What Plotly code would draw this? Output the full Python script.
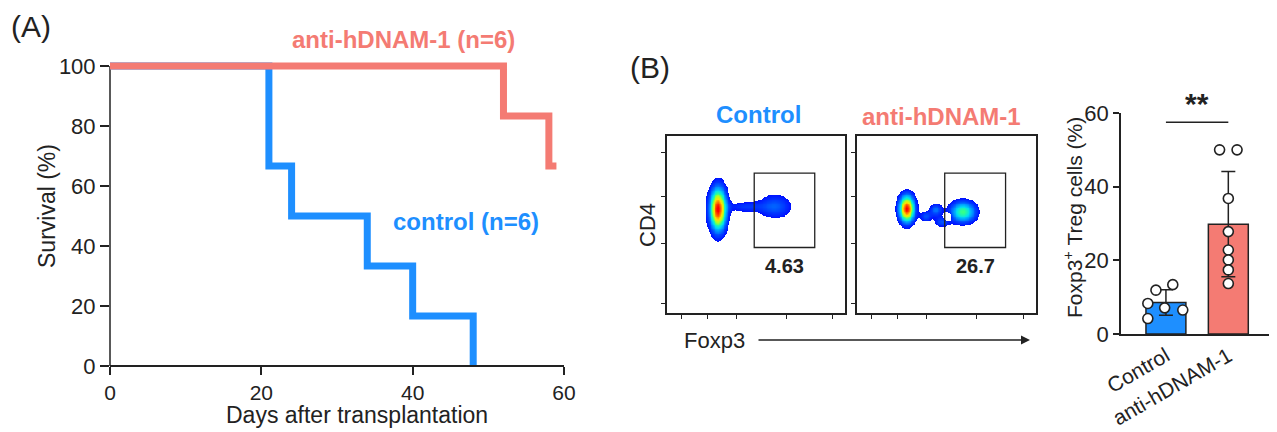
import numpy as np
import plotly.graph_objects as go

# page has an 8px body margin, so the figure is sized to fit the 1277x432 window
OFF = 8
FW, FH = 1269, 424
BLUE = "#1E8FFF"
SALMON = "#F47B73"
DARK = "#222222"
FONT = "Liberation Sans"

# ---------------- Panel A data (Kaplan-Meier) ----------------
ctrl_days = [0, 21, 24, 34, 40, 48]
ctrl_surv = [100, 66.7, 50, 33.3, 16.7, 0]
anti_days = [0, 52, 58, 59]
anti_surv = [100, 83.3, 66.7, 66.7]
a_xticks = [0, 20, 40, 60]
a_yticks = [0, 20, 40, 60, 80, 100]

# ---------------- Panel B flow blobs ----------------
# each blob: centre x, centre y, spread x, spread y, weight (axes scaled 0..1)
ctrl_cx = [0.287, 0.44, 0.607]
ctrl_cy = [0.585, 0.600, 0.602]
ctrl_sx = [0.031, 0.07, 0.064]
ctrl_sy = [0.08, 0.022, 0.046]
ctrl_w = [1.0, 0.15, 0.22]

anti_cx = [0.279, 0.385, 0.441, 0.475, 0.592, 0.508]
anti_cy = [0.588, 0.545, 0.582, 0.514, 0.571, 0.542]
anti_sx = [0.029, 0.022, 0.024, 0.028, 0.048, 0.012]
anti_sy = [0.05, 0.02, 0.024, 0.02, 0.04, 0.012]
anti_w = [1.0, 0.2, 0.25, 0.2, 0.55, -0.4]

gate_x = [0.49, 0.83]
gate_y = [0.37, 0.79]
gate_pct = ["4.63", "26.7"]

# ---------------- Panel B bar data ----------------
bar_groups = ["Control", "anti-hDNAM-1"]
ctrl_pts = [11.9, 13.4, 8.3, 7.1, 6.5, 4.2]
anti_pts = [50.0, 50.0, 36.8, 27.8, 22.8, 20.1, 17.4, 13.7]
ctrl_jit = [-0.16, 0.11, -0.29, -0.02, 0.27, -0.29]
anti_jit = [-0.14, 0.14, 0, 0, 0, 0, 0, 0]
b_yticks = [0, 20, 40, 60]


def px(x):
    return (x - OFF) / FW


def py(y):
    return 1 - (y - OFF) / FH


fig = go.Figure()

# ---------- Panel A ----------
fig.add_trace(go.Scatter(x=ctrl_days, y=ctrl_surv, mode="lines", line_shape="hv",
                         line=dict(color=BLUE, width=7), xaxis="x", yaxis="y",
                         hoverinfo="skip", showlegend=False))
fig.add_trace(go.Scatter(x=anti_days, y=anti_surv, mode="lines", line_shape="hv",
                         line=dict(color=SALMON, width=7), xaxis="x", yaxis="y",
                         hoverinfo="skip", showlegend=False))

# ---------- Panel B flow plots ----------
gx = np.linspace(0, 1, 220)
gy = np.linspace(0, 1, 220)
XX, YY = np.meshgrid(gx, gy)
THR = 0.08


def density(cx, cy, sx, sy, w):
    z = np.zeros_like(XX)
    for a, b, c, d, e in zip(cx, cy, sx, sy, w):
        z += e * np.exp(-((XX - a) ** 2) / (2 * c * c) - ((YY - b) ** 2) / (2 * d * d))
    z = np.where(z < THR, np.nan, z)
    return z


flow_cs = [[0, "#0010ff"], [0.12, "#0048ff"], [0.25, "#0098ff"], [0.38, "#00e0f0"],
           [0.5, "#30ff90"], [0.62, "#b0ff20"], [0.75, "#ffe000"], [0.88, "#ff7000"],
           [1, "#ff0000"]]

for dens, ax in [(density(ctrl_cx, ctrl_cy, ctrl_sx, ctrl_sy, ctrl_w), "2"),
                 (density(anti_cx, anti_cy, anti_sx, anti_sy, anti_w), "3")]:
    fig.add_trace(go.Heatmap(x=gx, y=gy, z=dens, colorscale=flow_cs, zmin=THR, zmax=1,
                             showscale=False, hoverinfo="skip", xaxis="x" + ax, yaxis="y" + ax))

# ---------- Panel B bar chart ----------
means = [float(np.mean(ctrl_pts)), float(np.mean(anti_pts))]
sds = [float(np.std(ctrl_pts, ddof=1)), float(np.std(anti_pts, ddof=1))]
fig.add_trace(go.Bar(x=[0, 1], y=means, width=0.64, marker=dict(color=[BLUE, SALMON],
                     line=dict(color=DARK, width=1.5)),
                     error_y=dict(type="data", array=sds, visible=True, color=DARK,
                                  thickness=1.5, width=7),
                     xaxis="x4", yaxis="y4", hoverinfo="skip", showlegend=False))
fig.add_trace(go.Scatter(x=[0 + j for j in ctrl_jit] + [1 + j for j in anti_jit],
                         y=ctrl_pts + anti_pts, mode="markers",
                         marker=dict(color="white", size=10, line=dict(color=DARK, width=1.6)),
                         cliponaxis=False, xaxis="x4", yaxis="y4", hoverinfo="skip",
                         showlegend=False))

tickfont = dict(family=FONT, size=22, color=DARK)
flow_common = dict(range=[0, 1], showline=True, mirror=True, linecolor=DARK, linewidth=1.5,
                   ticks="outside", ticklen=4, tickcolor=DARK, showticklabels=False,
                   showgrid=False, zeroline=False, automargin=False)
flow_xt = [0.08, 0.225, 0.39, 0.67, 0.93]
flow_yt = [0.056, 0.39, 0.66, 0.905]

layout = dict(
    template="none",
    width=FW, height=FH, margin=dict(l=0, r=0, t=0, b=0, autoexpand=False),
    paper_bgcolor="white", plot_bgcolor="rgba(0,0,0,0)", showlegend=False,
    font=dict(family=FONT, color=DARK),
    # Panel A axes
    xaxis=dict(domain=[px(110), px(564)], range=[0, 60], anchor="free", position=py(366),
               showline=True, linecolor=DARK, linewidth=1.5, ticks="outside", ticklen=8,
               tickwidth=1.5, tickcolor=DARK, tickvals=a_xticks,
               tickfont=dict(family=FONT, size=21, color=DARK),
               showgrid=False, zeroline=False, automargin=False),
    yaxis=dict(domain=[py(378), py(54)], range=[-4, 104], anchor="x",
               showline=False, ticks="outside", ticklen=9, tickwidth=1.5, tickcolor=DARK,
               tickvals=a_yticks, tickfont=tickfont, showgrid=False, zeroline=False,
               automargin=False),
    # flow plots
    xaxis2=dict(domain=[px(667), px(845)], anchor="y2", tickvals=flow_xt, **flow_common),
    yaxis2=dict(domain=[py(313), py(136)], anchor="x2", tickvals=flow_yt, **flow_common),
    xaxis3=dict(domain=[px(857), px(1036)], anchor="y3", tickvals=flow_xt, **flow_common),
    yaxis3=dict(domain=[py(313), py(136)], anchor="x3", tickvals=flow_yt, **flow_common),
    # bar chart
    xaxis4=dict(domain=[px(1121), px(1272)], range=[-0.72, 1.70], anchor="y4",
                showline=True, linecolor=DARK, linewidth=1.5, ticks="", tickvals=[0, 1],
                ticktext=bar_groups, tickangle=-30, tickfont=dict(family=FONT, size=21, color=DARK),
                showgrid=False, zeroline=False, automargin=False),
    yaxis4=dict(domain=[py(334), py(113)], range=[0, 60], anchor="x4", showline=True,
                linecolor=DARK, linewidth=1.5, ticks="outside", ticklen=6, tickwidth=1.5,
                tickcolor=DARK, tickvals=b_yticks, tickfont=tickfont,
                showgrid=False, zeroline=False, automargin=False),
)
fig.update_layout(**layout)

shapes = [
    # Panel A y-axis line (0..100)
    dict(type="line", xref="paper", yref="paper", x0=px(110), x1=px(110), y0=py(366), y1=py(66),
         line=dict(color=DARK, width=1.5), layer="below"),
    # gates
    dict(type="rect", xref="x2", yref="y2", x0=gate_x[0], x1=gate_x[1], y0=gate_y[0], y1=gate_y[1],
         line=dict(color=DARK, width=1.3)),
    dict(type="rect", xref="x3", yref="y3", x0=gate_x[0], x1=gate_x[1], y0=gate_y[0], y1=gate_y[1],
         line=dict(color=DARK, width=1.3)),
    # significance bar
    dict(type="line", xref="x4", yref="y4", x0=0, x1=1, y0=57.5, y1=57.5,
         line=dict(color=DARK, width=1.5)),
]
fig.update_layout(shapes=shapes)


def ann(x, y, text, size, color=DARK, bold=False, angle=0, xanchor="center"):
    t = f"<b>{text}</b>" if bold else text
    return dict(x=px(x), y=py(y), xref="paper", yref="paper", text=t, showarrow=False,
                font=dict(family=FONT, size=size, color=color), textangle=angle,
                xanchor=xanchor, yanchor="middle")


annotations = [
    ann(31, 27, "(A)", 30),
    ann(403, 40, "anti-hDNAM-1 (n=6)", 24, SALMON, True),
    ann(466, 221, "control (n=6)", 24, BLUE, True),
    ann(47, 206, "Survival (%)", 23, angle=-90),
    ann(357, 415, "Days after transplantation", 23),
    ann(650, 68, "(B)", 30),
    ann(758, 114, "Control", 24, BLUE, True),
    ann(942, 117, "anti-hDNAM-1", 24, SALMON, True),
    ann(784, 266, gate_pct[0], 20, bold=True),
    ann(975, 266, gate_pct[1], 20, bold=True),
    ann(647, 225, "CD4", 22, angle=-90),
    ann(714, 340, "Foxp3", 22),
    ann(1073, 218, "Foxp3<sup>+</sup> Treg cells (%)", 21, angle=-90),
    ann(1197, 104, "**", 30, bold=True),
    dict(x=px(1030), y=py(340), ax=-(1030 - 757), ay=0, xref="paper", yref="paper",
         axref="pixel", ayref="pixel", text="", showarrow=True, arrowhead=2, arrowsize=1.2,
         arrowwidth=1.5, arrowcolor=DARK),
]
fig.update_layout(annotations=annotations)

fig.write_html("out.html")
